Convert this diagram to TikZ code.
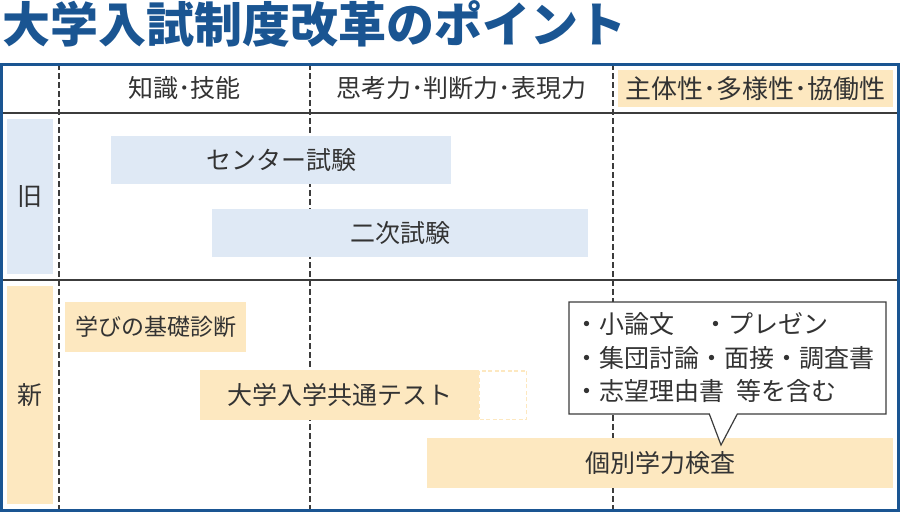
\documentclass[tikz,border=0pt]{standalone}
\usepackage{fontspec}
\setmainfont{Noto Sans CJK JP}
\usetikzlibrary{shapes.callouts}
\definecolor{titleblue}{HTML}{1A5592}
\definecolor{txt}{HTML}{333333}
\definecolor{lblue}{HTML}{DFE9F5}
\definecolor{beige}{HTML}{FDE8C0}
\definecolor{rulec}{HTML}{3C3C3C}
\begin{document}
\begin{tikzpicture}[x=1pt,y=-1pt,
  every node/.style={font=\fontsize{25}{29}\selectfont, text=txt, inner sep=0pt},
  oldbox/.style={fill=lblue, minimum height=48pt},
  newbox/.style={fill=beige, minimum height=50pt},
  rulel/.style={draw=rulec, line width=1.2pt},
  dashl/.style={draw=rulec, line width=1.2pt, dash pattern=on 6pt off 3pt},
  note/.style={rectangle callout, draw=rulec, line width=1.2pt, fill=white,
    text width=307pt, inner xsep=5pt, minimum height=112pt, align=left,
    font=\fontsize{25}{33.5}\selectfont, callout pointer width=28pt}]
\useasboundingbox (0,0) rectangle (900,512);
% title
\node[anchor=west, font=\fontsize{48}{52}\selectfont\bfseries, text=titleblue] (title) at (2,24) {大学入試制度改革のポイント};
% grid coordinates
\coordinate (r1l) at (0,113); \coordinate (r1r) at (900,113);
\coordinate (r2l) at (0,280); \coordinate (r2r) at (900,280);
\coordinate (c1t) at (59,64);  \coordinate (c1b) at (59,510);
\coordinate (c2t) at (310,64); \coordinate (c2b) at (310,510);
\coordinate (c3t) at (613,64); \coordinate (c3b) at (613,510);
\draw[rulel] (r1l) -- (r1r);
\draw[rulel] (r2l) -- (r2r);
\draw[dashl] (c1t) -- (c1b);
\draw[dashl] (c2t) -- (c2b);
\draw[dashl] (c3t) -- (c3b);
% header
\node (h1) at (184.5,88) {知識･技能};
\node (h2) at (461,88) {思考力･判断力･表現力};
\node[fill=beige, minimum width=275pt, minimum height=37pt, font=\fontsize{26}{30}\selectfont] (h3) at (755.5,88.5) {主体性･多様性･協働性};
% row labels
\node[fill=lblue, minimum width=46pt, minimum height=155pt] (old) at (30,196.5) {旧};
\node[fill=beige, minimum width=46pt, minimum height=218pt] (new) at (30,395) {新};
% old
\node[oldbox, minimum width=340pt] (center) at (281,160) {センター試験};
\node[oldbox, minimum width=376pt] (second) at (400,233) {二次試験};
% new
\node[newbox, minimum width=181pt, font=\fontsize{23}{27}\selectfont] (kiso) at (155.5,327) {学びの基礎診断};
\node[newbox, minimum width=279pt] (kyotsu) at (339.5,395) {大学入学共通テスト};
\node[draw=beige, line width=1.5pt, dash pattern=on 4pt off 2.5pt, minimum width=47pt, minimum height=48.5pt] (ext) at (503,395) {};
\node[newbox, minimum width=466pt] (kobetsu) at (660,463) {個別学力検査};
% callout
\coordinate (tip) at (721,445);
\node[note, callout absolute pointer=(tip)] (memo) at (727.5,358) {・小論文\hspace{1.2em}・プレゼン\\・集団討論・面接・調査書\\・志望理由書\hspace{0.5em}等を含む};
% frame
\draw[titleblue, line width=3pt] (1.5,64) rectangle (898.5,510.5);
\end{tikzpicture}
\end{document}
